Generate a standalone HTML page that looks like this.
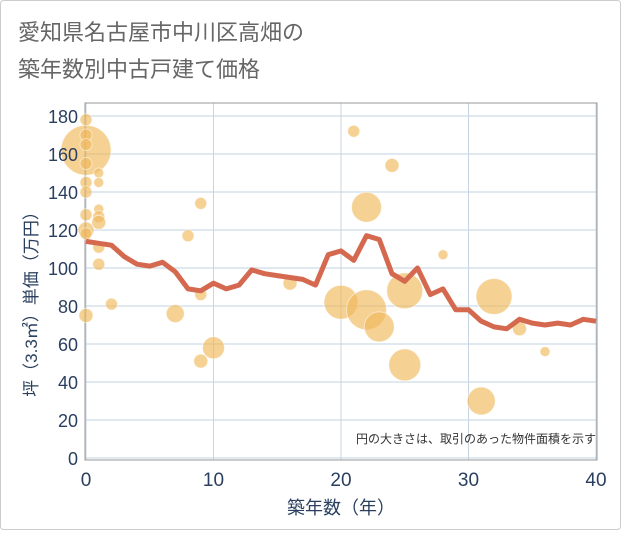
<!DOCTYPE html>
<html><head><meta charset="utf-8"><style>
body{margin:0;background:#fff;}
svg text{font-family:"Liberation Sans","Noto Sans CJK JP",sans-serif;}
</style></head><body>
<svg id="chart" width="621" height="530" xmlns="http://www.w3.org/2000/svg">
<rect x="0.5" y="0.5" width="620" height="529" rx="3" fill="#fff" stroke="#ccc"/>
<text x="18" y="40" font-size="22" fill="#666">愛知県名古屋市中川区高畑の</text>
<text x="18" y="77" font-size="22" fill="#666">築年数別中古戸建て価格</text>
<g id="grid"></g>
<rect x="85" y="103" width="512" height="357" fill="none" stroke="#999" stroke-width="1"/>
<g id="bubbles"></g>
<g id="line"></g>
<g id="axes"></g>
<text x="596" y="443" font-size="12" fill="#333" text-anchor="end">円の大きさは、取引のあった物件面積を示す</text>
<text x="341" y="514" font-size="18" fill="#2a3f5f" text-anchor="middle">築年数（年）</text>
<text transform="translate(37,300) rotate(-90)" font-size="17" fill="#2a3f5f" text-anchor="middle">坪（3.3㎡）単価（万円）</text>
</svg>
<script>
const xTicks=[0,10,20,30,40];
const yTicks=[0,20,40,60,80,100,120,140,160,180];
const lineYears=[0,1,2,3,4,5,6,7,8,9,10,11,12,13,14,15,16,17,18,19,20,21,22,23,24,25,26,27,28,29,30,31,32,33,34,35,36,37,38,39,40];
const lineValues=[114,113,112,106,102,101,103,98,89,88,92,89,91,99,97,96,95,94,91,107,109,104,117,115,97,93,100,86,89,78,78,72,69,68,73,71,70,71,70,73,72];
const bubbleYears=[0,0,0,0,0,0,0,0,0,0,0,1,1,1,1,1,1,1,2,7,8,9,9,9,10,16,20,21,22,22,23,24,25,25,28,31,32,34,36];
const bubbleValues=[162,178,170,165,155,145,140,128,120,118,75,150,145,131,127,124,111,102,81,76,117,134,86,51,58,92,82,172,132,78,69,154,88,49,107,30,85,68,56];
const bubbleSizes=[25,6,6,6,6,6,6,6,8,6,7,5,5,5,6,7,6,6,6,9,6,6,6,7,11,7,17,6,15,20,15,7,18,16,5,14,18,7,5];
const NS="http://www.w3.org/2000/svg";
const X=v=>86+v*12.75, Y=v=>458-v*1.9;
function mk(t,a,p){const e=document.createElementNS(NS,t);for(const k in a)e.setAttribute(k,a[k]);p.appendChild(e);return e;}
const grid=document.getElementById('grid'),axes=document.getElementById('axes');
yTicks.forEach(v=>{
 const l=mk('line',{x1:85,x2:597,y1:Y(v),y2:Y(v),stroke:'#d5e0ec','stroke-width':1.5},grid);
 
 
 const t=mk('text',{x:78,y:Y(v)+7,'font-size':18,fill:'#2a3f5f','text-anchor':'end'},axes);
 t.textContent=v;
 
 
});
xTicks.forEach(v=>{
 const l=mk('line',{x1:X(v),x2:X(v),y1:103,y2:460,stroke:'#c8d4e0','stroke-width':1},grid);
 
 
 const t=mk('text',{x:X(v),y:486,'font-size':19,fill:'#2a3f5f','text-anchor':'middle'},axes);
 t.textContent=v;
 
 
});
const bg=document.getElementById('bubbles');
bubbleYears.forEach((yr,i)=>{
 const c=mk('circle',{cx:X(yr),cy:Y(bubbleValues[i]),r:bubbleSizes[i],fill:'#f0b95a','fill-opacity':0.65,stroke:'#fff','stroke-opacity':0.5,'stroke-width':1},bg);
 
 
});
const pts=lineYears.map((yr,i)=>X(yr)+','+Y(lineValues[i])).join(' ');
const pl=mk('polyline',{points:pts,fill:'none',stroke:'#d4694f','stroke-width':5,'stroke-linejoin':'round'},document.getElementById('line'));


</script>
</body></html>
